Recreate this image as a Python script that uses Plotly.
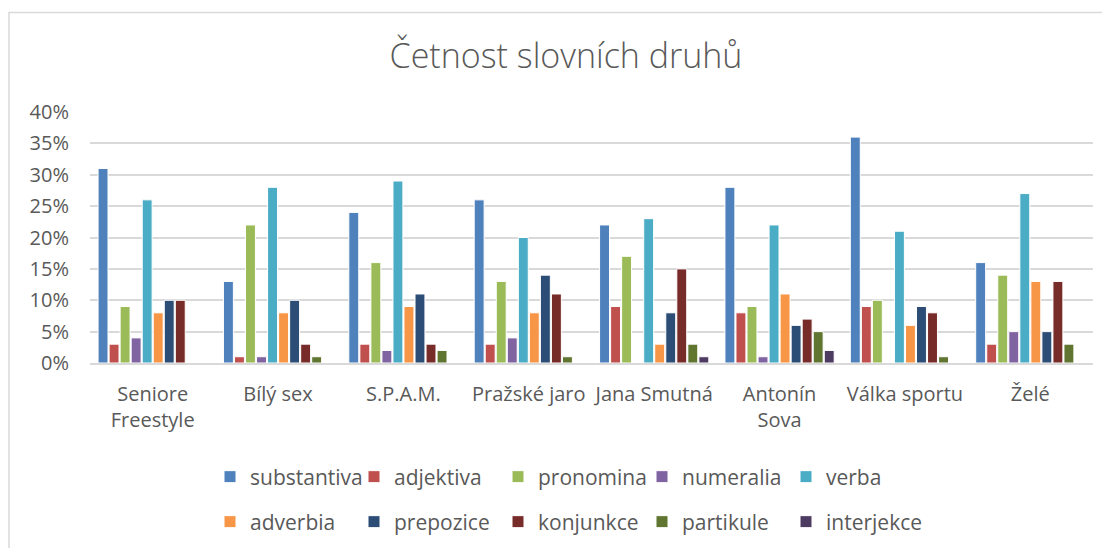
import plotly.graph_objects as go

# Data (share of word classes per text)
categories = ["Seniore<br>Freestyle", "Bílý sex", "S.P.A.M.", "Pražské jaro",
              "Jana Smutná", "Antonín<br>Sova", "Válka sportu", "Želé"]

substantiva = [0.31, 0.13, 0.24, 0.26, 0.22, 0.28, 0.36, 0.16]
adjektiva   = [0.03, 0.01, 0.03, 0.03, 0.09, 0.08, 0.09, 0.03]
pronomina   = [0.09, 0.22, 0.16, 0.13, 0.17, 0.09, 0.10, 0.14]
numeralia   = [0.04, 0.01, 0.02, 0.04, 0.00, 0.01, 0.00, 0.05]
verba       = [0.26, 0.28, 0.29, 0.20, 0.23, 0.22, 0.21, 0.27]
adverbia    = [0.08, 0.08, 0.09, 0.08, 0.03, 0.11, 0.06, 0.13]
prepozice   = [0.10, 0.10, 0.11, 0.14, 0.08, 0.06, 0.09, 0.05]
konjunkce   = [0.10, 0.03, 0.03, 0.11, 0.15, 0.07, 0.08, 0.13]
partikule   = [0.00, 0.01, 0.02, 0.01, 0.03, 0.05, 0.01, 0.03]
interjekce  = [0.00, 0.00, 0.00, 0.00, 0.01, 0.02, 0.00, 0.00]

series = [
    ("substantiva", substantiva, "#4F81BD"),
    ("adjektiva", adjektiva, "#C0504D"),
    ("pronomina", pronomina, "#9BBB59"),
    ("numeralia", numeralia, "#8064A2"),
    ("verba", verba, "#4BACC6"),
    ("adverbia", adverbia, "#F79646"),
    ("prepozice", prepozice, "#2C4D75"),
    ("konjunkce", konjunkce, "#772C2A"),
    ("partikule", partikule, "#5F7530"),
    ("interjekce", interjekce, "#4D3B62"),
]

FONT = "Open Sans"
GREY = "#595959"
# the page body adds an 8px margin, so the figure is 8px smaller
W, H = 1102, 540

fig = go.Figure()
for i, (name, vals, col) in enumerate(series):
    fig.add_trace(go.Bar(
        name=name, x=categories, y=vals,
        marker=dict(color=col, line=dict(color="white", width=1)),
        legend="legend" if i < 5 else "legend2",
        legendwidth=99,
    ))

legend_style = dict(orientation="h", xref="container", yref="container",
                    x=202 / W, xanchor="left", yanchor="middle",
                    font=dict(size=21, color=GREY), traceorder="normal")

fig.update_layout(
    width=W, height=H,
    margin=dict(l=82, r=17, t=104, b=185),
    paper_bgcolor="white", plot_bgcolor="white",
    barmode="group", bargap=0.12, bargroupgap=0.1,
    font=dict(family=FONT, color=GREY, size=20),
    title=dict(text="Četnost slovních druhů", x=558 / W, xanchor="center",
               y=1 - 48 / H, yanchor="middle",
               font=dict(family=FONT, size=34, color=GREY, weight=300)),
    legend=dict(legend_style, y=1 - 469 / H),
    legend2=dict(legend_style, y=1 - 514 / H),
)
fig.update_yaxes(range=[0, 0.40], dtick=0.05, tickformat=".0%",
                 showgrid=True, gridcolor="#D9D9D9", gridwidth=1.5,
                 zeroline=False, showline=False, ticklabelstandoff=20,
                 tickfont=dict(size=20, color=GREY))
fig.update_xaxes(showline=True, linecolor="#D9D9D9", linewidth=1.5,
                 ticks="", ticklabelstandoff=12,
                 tickfont=dict(size=20, color=GREY))

# chart-area border, as in the Excel export
fig.add_shape(type="rect", xref="paper", yref="paper",
              x0=(1 - 82) / 1003, x1=1.05, y0=-1.0, y1=1 + (104 - 4.5) / 251,
              line=dict(color="#D9D9D9", width=1.5), fillcolor="rgba(0,0,0,0)",
              layer="below")

fig.write_html("out.html")
